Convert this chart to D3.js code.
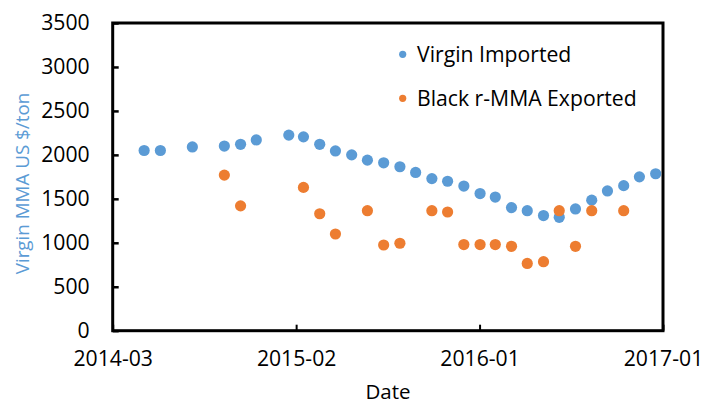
<!DOCTYPE html>
<html><head><meta charset="utf-8">
<script src="https://cdn.jsdelivr.net/npm/d3@7"></script>
<style>
body{margin:0;background:#fff}
text{font-family:"Open Sans",sans-serif;fill:#000}
</style>
</head><body><svg id="c" width="705" height="405"></svg>
<script>
// ---- data ----
const virginDates = ["2014-05-01","2014-06-01","2014-08-01","2014-10-01","2014-11-01","2014-12-01",
  "2015-02-01","2015-03-01","2015-04-01","2015-05-01","2015-06-01","2015-07-01","2015-08-01","2015-09-01",
  "2015-10-01","2015-11-01","2015-12-01","2016-01-01","2016-02-01","2016-03-01","2016-04-01","2016-05-01",
  "2016-06-01","2016-07-01","2016-08-01","2016-09-01","2016-10-01","2016-11-01","2016-12-01","2017-01-01"];
const virginValues = [2050,2050,2090,2100,2120,2170,
  2225,2205,2120,2045,2000,1940,1910,1865,
  1800,1730,1700,1645,1560,1520,1400,1365,
  1310,1290,1385,1485,1590,1650,1750,1785];
const blackDates = ["2014-10-01","2014-11-01","2015-03-01","2015-04-01","2015-05-01","2015-07-01","2015-08-01",
  "2015-09-01","2015-11-01","2015-12-01","2016-01-01","2016-02-01","2016-03-01","2016-04-01","2016-05-01",
  "2016-06-01","2016-07-01","2016-08-01","2016-09-01","2016-11-01"];
const blackValues = [1770,1420,1630,1330,1100,1365,975,
  995,1365,1350,980,980,980,960,765,
  785,1365,960,1365,1365];
const xTickDates = ["2014-03-02","2015-02-15","2016-01-31","2017-01-15"];
const yTickValues = [0,500,1000,1500,2000,2500,3000,3500];
const seriesNames = ["Virgin Imported","Black r-MMA Exported"];
const seriesColors = ["#5B9BD5","#ED7D31"];
const xTitle = "Date";
const yTitle = "Virgin MMA US $/ton";

// ---- layout ----
const L = 112.7, R = 663, T = 23, B = 330.7;
const FS = 21.2;
const parse = d3.utcParse("%Y-%m-%d");
const svg = d3.select("#c");

const x = d3.scaleUtc()
  .domain([parse(xTickDates[0]), parse(xTickDates[xTickDates.length-1])])
  .range([L, R]);
const y = d3.scaleLinear().domain([0, 3500]).range([B, T]);

// axes
const yAxis = d3.axisLeft(y).tickValues(yTickValues).tickFormat(d3.format("d"))
  .tickSizeInner(-6).tickSizeOuter(0).tickPadding(23);
const gy = svg.append("g").attr("transform", `translate(${L},0)`).call(yAxis);
gy.select(".domain").remove();
gy.selectAll(".tick line").attr("stroke", "#000").attr("stroke-width", 2.5);
gy.selectAll(".tick text").style("font-size", FS + "px").attr("fill", "#000");

const xAxis = d3.axisBottom(x).tickValues(xTickDates.map(parse))
  .tickFormat(d3.utcFormat("%Y-%m")).tickSizeInner(-6).tickSizeOuter(0).tickPadding(20);
const gx = svg.append("g").attr("transform", `translate(0,${B})`).call(xAxis);
gx.select(".domain").remove();
gx.selectAll(".tick line").attr("stroke", "#000").attr("stroke-width", 2);
gx.selectAll(".tick text").style("font-size", FS + "px").attr("fill", "#000");

// frame
svg.append("rect").attr("x", L).attr("y", T).attr("width", R - L).attr("height", B - T)
  .attr("fill", "none").attr("stroke", "#000").attr("stroke-width", 3);

// points
const virgin = virginDates.map((d, i) => ({d: parse(d), v: virginValues[i]}));
const black = blackDates.map((d, i) => ({d: parse(d), v: blackValues[i]}));
svg.append("g").selectAll("circle").data(virgin).join("circle")
  .attr("cx", p => x(p.d)).attr("cy", p => y(p.v)).attr("r", 5.6).attr("fill", seriesColors[0]);
svg.append("g").selectAll("circle").data(black).join("circle")
  .attr("cx", p => x(p.d)).attr("cy", p => y(p.v)).attr("r", 5.6).attr("fill", seriesColors[1]);

// legend
const lg = svg.append("g");
seriesNames.forEach((n, i) => {
  const cy = 54.3 + i * 44;
  lg.append("circle").attr("cx", 402.7).attr("cy", cy).attr("r", 3.6).attr("fill", seriesColors[i]);
  lg.append("text").attr("x", 417).attr("y", cy).attr("dy", "0.35em")
    .style("font-size", FS + "px").text(n);
});

// titles
svg.append("text").attr("x", 388).attr("y", 392).attr("dy", "0.35em")
  .attr("text-anchor", "middle").style("font-size", "20.5px").text(xTitle);
svg.append("text").attr("transform", `translate(22,183.5) rotate(-90)`)
  .attr("dy", "0.35em").attr("text-anchor", "middle").style("font-size", "18.8px")
  .style("fill", seriesColors[0]).text(yTitle);
</script>
</body></html>
